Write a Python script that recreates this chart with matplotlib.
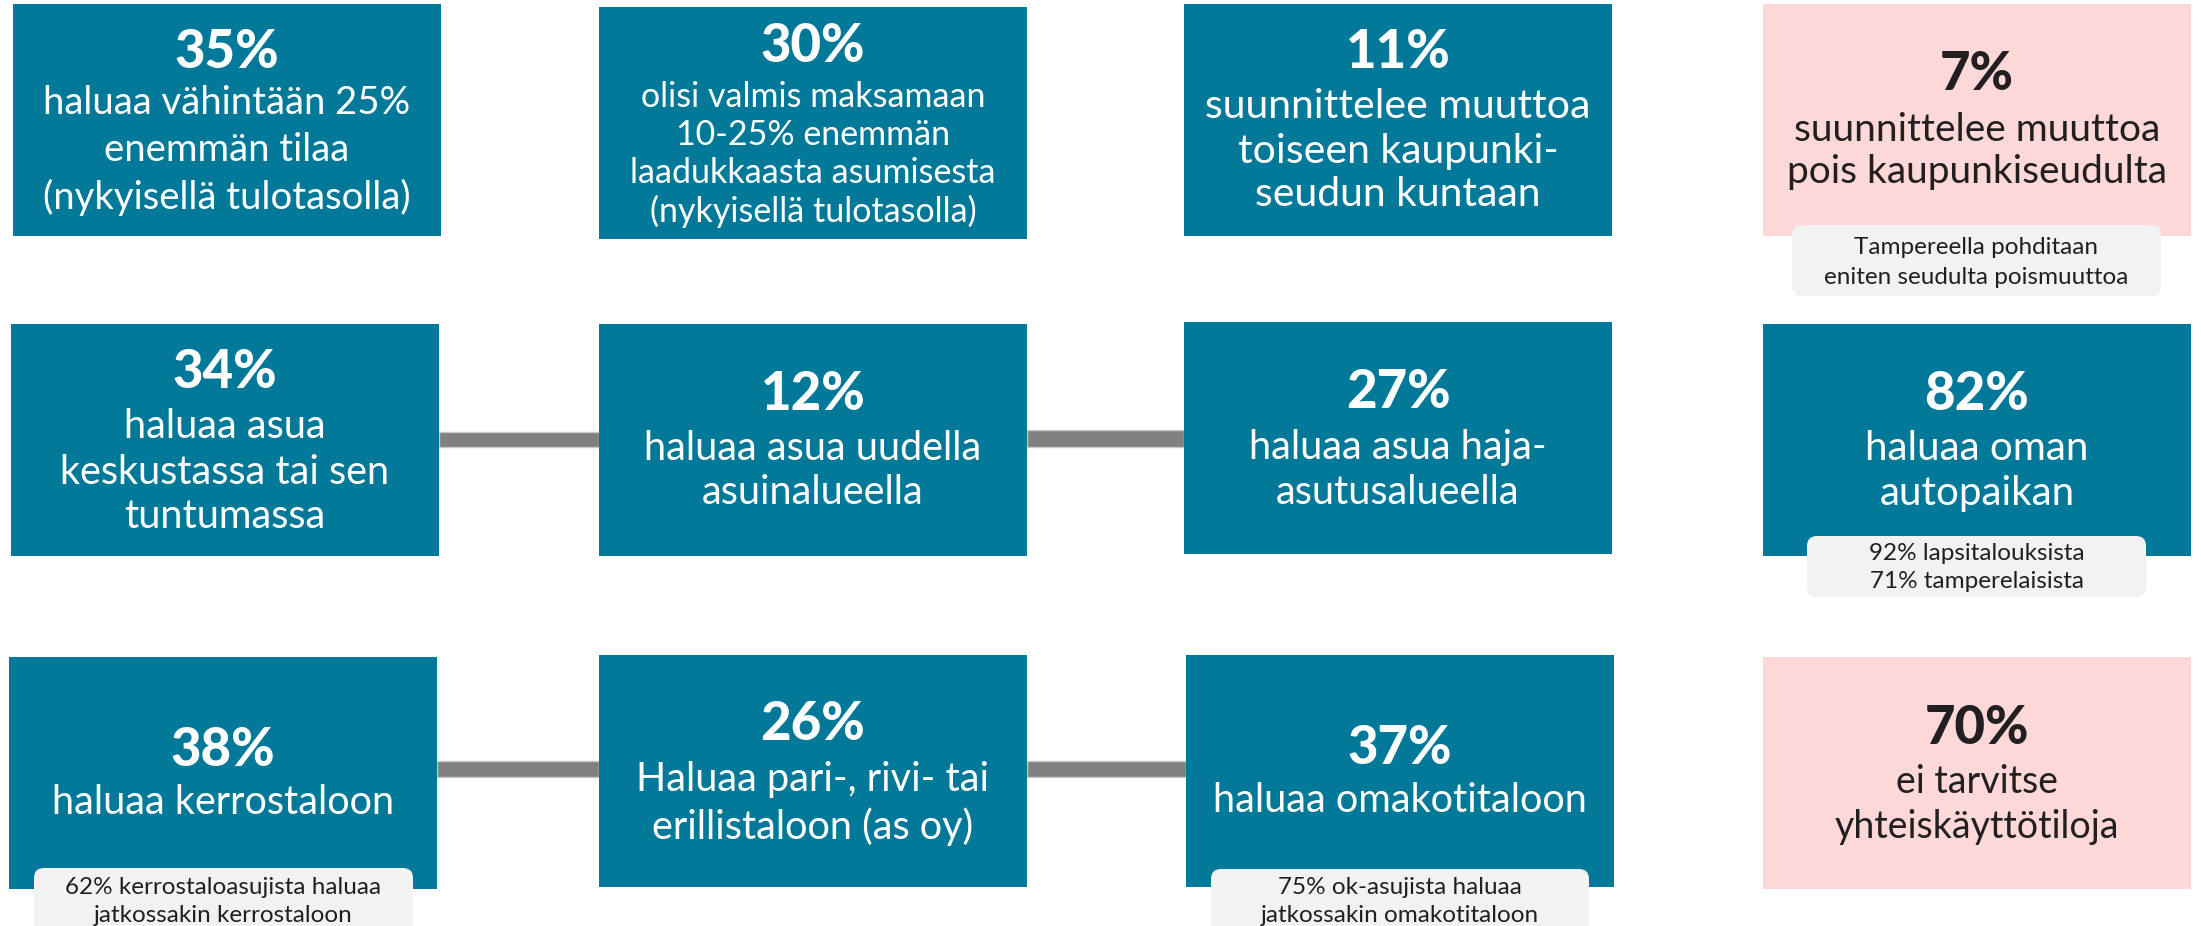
import matplotlib.pyplot as plt
from matplotlib.patches import Rectangle, FancyBboxPatch

# Sisältö: prosentit, kuvaukset ja lisähuomiot
percents = ["35%", "30%", "11%", "7%",
            "34%", "12%", "27%", "82%",
            "38%", "26%", "37%", "70%"]
descriptions = [
    ["haluaa vähintään 25%", "enemmän tilaa", "(nykyisellä tulotasolla)"],
    ["olisi valmis maksamaan", "10-25% enemmän", "laadukkaasta asumisesta", "(nykyisellä tulotasolla)"],
    ["suunnittelee muuttoa", "toiseen kaupunki-", "seudun kuntaan"],
    ["suunnittelee muuttoa", "pois kaupunkiseudulta"],
    ["haluaa asua", "keskustassa tai sen", "tuntumassa"],
    ["haluaa asua uudella", "asuinalueella"],
    ["haluaa asua haja-", "asutusalueella"],
    ["haluaa oman", "autopaikan"],
    ["haluaa kerrostaloon"],
    ["Haluaa pari-, rivi- tai", "erillistaloon (as oy)"],
    ["haluaa omakotitaloon"],
    ["ei tarvitse", "yhteiskäyttötiloja"],
]
notes = {
    3: ["Tampereella pohditaan", "eniten seudulta poismuuttoa"],
    7: ["92% lapsitalouksista", "71% tamperelaisista"],
    8: ["62% kerrostaloasujista haluaa", "jatkossakin kerrostaloon"],
    10: ["75% ok-asujista haluaa", "jatkossakin omakotitaloon"],
}
pink_boxes = [3, 11]

# Asettelu (pikseleinä)
box_x = [[13, 599, 1184, 1763], [11, 599, 1184, 1763], [9, 599, 1186, 1763]]
box_y = [[4, 7, 4, 4], [324, 324, 322, 324], [657, 655, 655, 657]]
box_w = 428
box_h = 232
title_y = [53, 47, 53, 75, 372, 395, 393, 395, 750, 725, 748, 728]
first_line_y = [103, 97, 107, 130, 427, 448, 448, 448, 802, 780, 800, 782]
line_gap = [47, 38, 44, 42, 45, 45, 45, 45, 45, 47, 45, 45]
body_size = [27.5, 24.5, 29.5, 28, 28.5, 28.5, 28.5, 29, 28.5, 28.5, 28.5, 27]
note_box = {3: (1792, 225, 369, 71), 7: (1807, 536, 339, 61),
            8: (34, 868, 379, 80), 10: (1211, 869, 378, 80)}
note_line_y = {3: (248, 277), 7: (553, 582), 8: (887, 915), 10: (887, 915)}
connectors = [(439, 599, 432, 447), (1027, 1184, 430, 447),
              (437, 599, 761, 777), (1027, 1186, 761, 777)]

teal = "#03799A"
pink = "#FCD8D9"
note_gray = "#F2F2F2"

plt.rcParams['font.family'] = ['Lato', 'DejaVu Sans']

fig = plt.figure(figsize=(22.01, 9.26), dpi=100)
ax = fig.add_axes([0, 0, 1, 1])
ax.set_xlim(0, 2201)
ax.set_ylim(926, 0)
ax.axis("off")

# Yhdysviivat
for x0, x1, y0, y1 in connectors:
    ax.add_patch(Rectangle((x0, y0), x1 - x0, y1 - y0, facecolor="#808080",
                           edgecolor="#C8C8C8", linewidth=1, zorder=1))

for i in range(12):
    r, c = divmod(i, 4)
    x0, y0 = box_x[r][c], box_y[r][c]
    is_pink = i in pink_boxes
    fc = pink if is_pink else teal
    tc = "#231F20" if is_pink else "white"
    ax.add_patch(Rectangle((x0, y0), box_w, box_h, facecolor=fc, edgecolor="none", zorder=2))
    cx = x0 + box_w / 2
    ax.text(cx, title_y[i], percents[i], color=tc, fontsize=38, fontweight="black",
            ha="center", va="center", zorder=3)
    for k, line in enumerate(descriptions[i]):
        ax.text(cx, first_line_y[i] + k * line_gap[i], line, color=tc, fontsize=body_size[i],
                ha="center", va="center", zorder=3)

# Lisähuomiot
for i, lines in notes.items():
    nx, ny, nw, nh = note_box[i]
    ax.add_patch(FancyBboxPatch((nx, ny), nw, nh, boxstyle="round,pad=0,rounding_size=10",
                                facecolor=note_gray, edgecolor="none", zorder=4))
    for k, line in enumerate(lines):
        ax.text(nx + nw / 2, note_line_y[i][k], line, color="#231F20", fontsize=17.5,
                ha="center", va="center", zorder=5)

plt.savefig("out.png", dpi=100)
